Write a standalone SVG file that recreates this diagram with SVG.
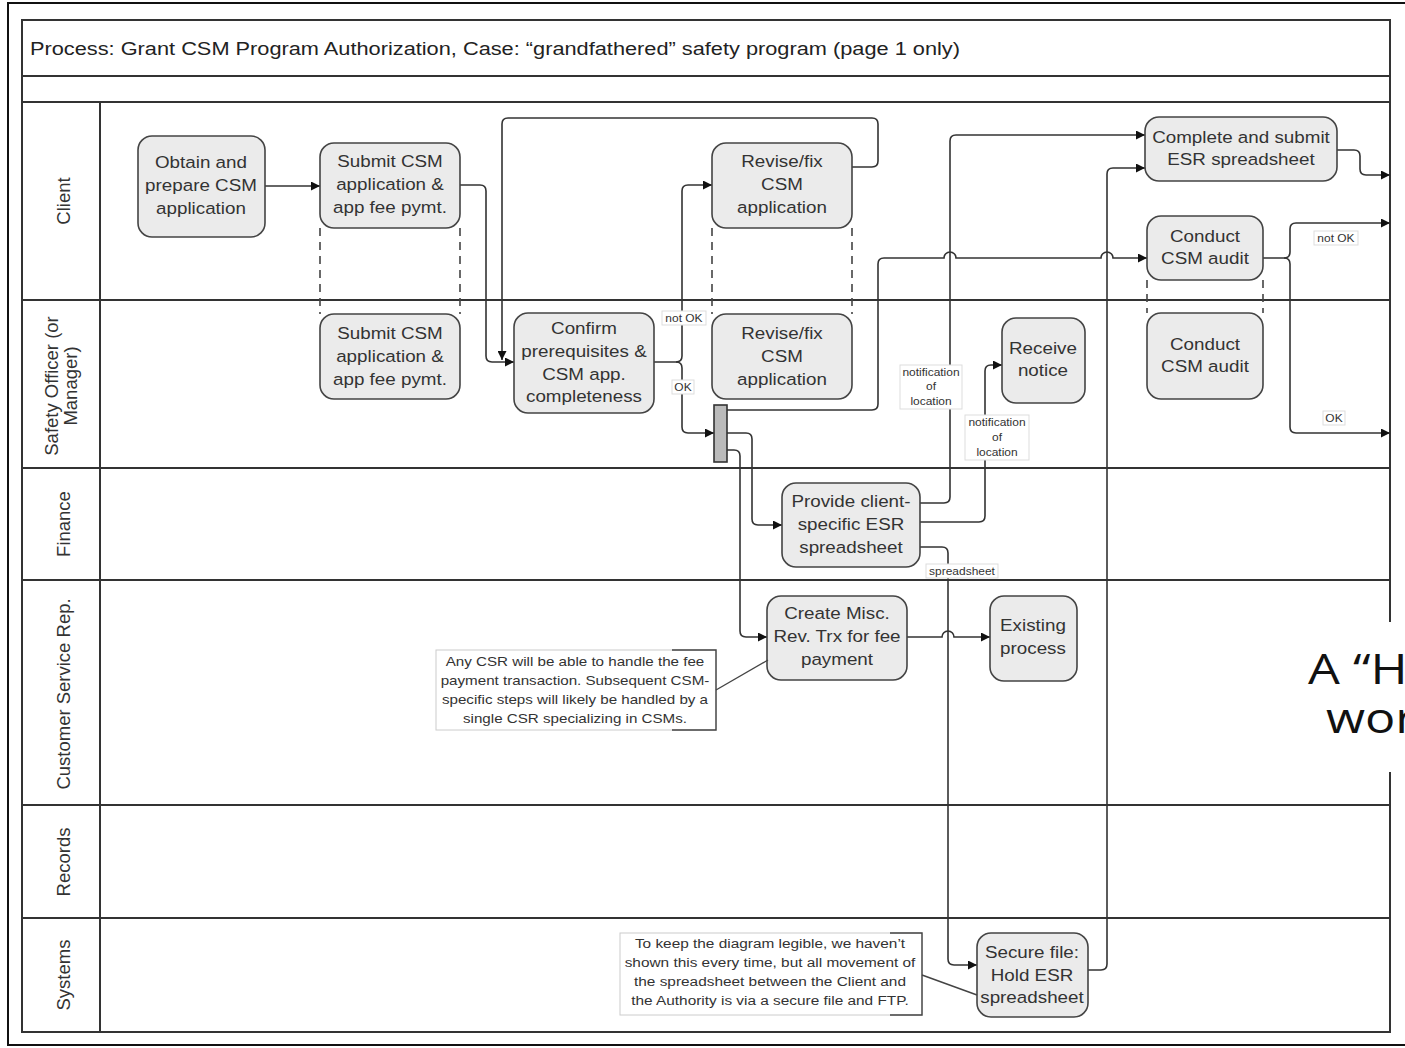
<svg xmlns="http://www.w3.org/2000/svg" width="1405" height="1048" viewBox="0 0 1405 1048">
<style>
.lane{stroke:#333;stroke-width:2;fill:none}
.node rect{fill:#ebebeb;stroke:#444;stroke-width:1.6}
.node text,.lt{font-family:"Liberation Sans",Arial,sans-serif;font-size:16.5px;fill:#333;text-anchor:middle}
.lt{font-size:18.5px}
.dash{stroke:#444;stroke-width:1.6;stroke-dasharray:8,6;fill:none}
.conn path{stroke:#333;stroke-width:1.6;fill:none}
.lbl rect{fill:#fff;stroke:#ddd;stroke-width:1}
.lbl text{font-family:"Liberation Sans",Arial,sans-serif;font-size:10.5px;fill:#333;text-anchor:middle}
.note text{font-family:"Liberation Sans",Arial,sans-serif;font-size:13.3px;fill:#333;text-anchor:middle}
.note rect{fill:#fff;stroke:#ccc;stroke-width:1}
.note path{stroke:#444;stroke-width:1.4;fill:none}
</style>
<defs>
<marker id="arr" viewBox="0 0 10 10" refX="10" refY="5" markerWidth="9" markerHeight="9" markerUnits="userSpaceOnUse" orient="auto">
<path d="M0,0 L10,5 L0,10 z" fill="#111"/>
</marker>
</defs>
<rect x="0" y="0" width="1405" height="1048" fill="#fff"/>
<rect x="8" y="3" width="1420" height="1042" fill="none" stroke="#111" stroke-width="2"/>
<g id="frame">
<rect x="22" y="20" width="1368" height="1012" class="lane"/>
<line x1="22" y1="76" x2="1390" y2="76" class="lane"/>
<line x1="22" y1="102" x2="1390" y2="102" class="lane"/>
<line x1="22" y1="300" x2="1390" y2="300" class="lane"/>
<line x1="22" y1="468" x2="1390" y2="468" class="lane"/>
<line x1="22" y1="580" x2="1390" y2="580" class="lane"/>
<line x1="22" y1="805" x2="1390" y2="805" class="lane"/>
<line x1="22" y1="918" x2="1390" y2="918" class="lane"/>
<line x1="100" y1="102" x2="100" y2="1032" class="lane"/>
<text x="30" y="55" textLength="930" lengthAdjust="spacingAndGlyphs" style="font-family:'Liberation Sans',Arial,sans-serif;font-size:17.5px;fill:#222">Process: Grant CSM Program Authorization, Case: “grandfathered” safety program (page 1 only)</text>
<text class="lt" transform="translate(70,201) rotate(-90)">Client</text>
<text class="lt" transform="translate(58,386) rotate(-90)">Safety Officer (or</text>
<text class="lt" transform="translate(77,386) rotate(-90)">Manager)</text>
<text class="lt" transform="translate(70,524) rotate(-90)">Finance</text>
<text class="lt" transform="translate(70,694) rotate(-90)">Customer Service Rep.</text>
<text class="lt" transform="translate(70,862) rotate(-90)">Records</text>
<text class="lt" transform="translate(70,975) rotate(-90)">Systems</text>
</g>
<g id="dashes">
<line x1="320" y1="228" x2="320" y2="314" class="dash"/>
<line x1="460" y1="228" x2="460" y2="314" class="dash"/>
<line x1="712" y1="228" x2="712" y2="314" class="dash"/>
<line x1="852" y1="228" x2="852" y2="314" class="dash"/>
<line x1="1147" y1="280" x2="1147" y2="313" class="dash"/>
<line x1="1263" y1="280" x2="1263" y2="313" class="dash"/>
</g>
<g id="connectors" class="conn">
<path d="M265,186 H320" marker-end="url(#arr)"/>
<path d="M460,185 H480 Q486,185 486,191 V356 Q486,362 492,362 H514" marker-end="url(#arr)"/>
<path d="M852,167 H872 Q878,167 878,161 V124 Q878,118 872,118 H508 Q502,118 502,124 V360" marker-end="url(#arr)"/>
<path d="M654,362 H676 Q682,362 682,356 V191 Q682,185 688,185 H712" marker-end="url(#arr)"/>
<path d="M676,362 Q682,362 682,368 V427 Q682,433 688,433 H714" marker-end="url(#arr)"/>
<path d="M727,433 H746 Q752,433 752,439 V519 Q752,525 758,525 H782" marker-end="url(#arr)"/>
<path d="M727,450 H734 Q740,450 740,456 V631 Q740,637 746,637 H767" marker-end="url(#arr)"/>
<path d="M727,410 H872 Q878,410 878,404 V264 Q878,258 884,258 H944 A6,6 0 0 1 956,258 H1101 A6,6 0 0 1 1113,258 H1147" marker-end="url(#arr)"/>
<path d="M920,503 H944 Q950,503 950,497 V141 Q950,135 956,135 H1145" marker-end="url(#arr)"/>
<path d="M920,522 H979 Q985,522 985,516 V371 Q985,365 991,365 H1002" marker-end="url(#arr)"/>
<path d="M920,547 H942 Q948,547 948,553 V959 Q948,965 954,965 H977" marker-end="url(#arr)"/>
<path d="M907,637 H942 A6,6 0 0 1 954,637 H990" marker-end="url(#arr)"/>
<path d="M1088,970 H1101 Q1107,970 1107,964 V174 Q1107,168 1113,168 H1145" marker-end="url(#arr)"/>
<path d="M1337,150 H1354 Q1360,150 1360,156 V169 Q1360,175 1366,175 H1390" marker-end="url(#arr)"/>
<path d="M1263,258 H1284 Q1290,258 1290,252 V229 Q1290,223 1296,223 H1390" marker-end="url(#arr)"/>
<path d="M1284,258 Q1290,258 1290,264 V427 Q1290,433 1296,433 H1390" marker-end="url(#arr)"/>
</g>
<g id="labels" class="lbl">
<g id="lbl-notok1"><rect x="662" y="311" width="44" height="14"/><text x="684" y="322" transform="matrix(1.14,0,0,1,-95.76,0)">not OK</text></g>
<g id="lbl-ok1"><rect x="672" y="380" width="22" height="14"/><text x="683" y="391" transform="matrix(1.14,0,0,1,-95.62,0)">OK</text></g>
<g id="lbl-notif1"><rect x="900" y="365" width="62" height="44"/><g transform="matrix(1.14,0,0,1,-130.34,0)"><text x="931" y="376">notification</text><text x="931" y="390">of</text><text x="931" y="405">location</text></g></g>
<g id="lbl-notif2"><rect x="965" y="415" width="64" height="45"/><g transform="matrix(1.14,0,0,1,-139.58,0)"><text x="997" y="426">notification</text><text x="997" y="441">of</text><text x="997" y="456">location</text></g></g>
<g id="lbl-spread"><rect x="926" y="564" width="72" height="14"/><text x="962" y="575" transform="matrix(1.14,0,0,1,-134.68,0)">spreadsheet</text></g>
<g id="lbl-notok2"><rect x="1314" y="231" width="44" height="14"/><text x="1336" y="242" transform="matrix(1.14,0,0,1,-187.04,0)">not OK</text></g>
<g id="lbl-ok2"><rect x="1323" y="411" width="22" height="14"/><text x="1334" y="422" transform="matrix(1.14,0,0,1,-186.76,0)">OK</text></g>
</g>
<g id="n-obtain" class="node"><rect x="138" y="136" width="127" height="101" rx="14"/><g transform="matrix(1.14,0,0,1,-28.14,0)"><text x="201" y="168">Obtain and</text><text x="201" y="191">prepare CSM</text><text x="201" y="214">application</text></g></g>
<g id="n-submit-client" class="node"><rect x="320" y="143" width="140" height="85" rx="14"/><g transform="matrix(1.14,0,0,1,-54.6,0)"><text x="390" y="167">Submit CSM</text><text x="390" y="190">application &amp;</text><text x="390" y="213">app fee pymt.</text></g></g>
<g id="n-submit-safety" class="node"><rect x="320" y="314" width="140" height="85" rx="14"/><g transform="matrix(1.14,0,0,1,-54.6,0)"><text x="390" y="339">Submit CSM</text><text x="390" y="362">application &amp;</text><text x="390" y="385">app fee pymt.</text></g></g>
<g id="n-revise-client" class="node"><rect x="712" y="143" width="140" height="85" rx="14"/><g transform="matrix(1.14,0,0,1,-109.48,0)"><text x="782" y="167">Revise/fix</text><text x="782" y="190">CSM</text><text x="782" y="213">application</text></g></g>
<g id="n-revise-safety" class="node"><rect x="712" y="314" width="140" height="85" rx="14"/><g transform="matrix(1.14,0,0,1,-109.48,0)"><text x="782" y="339">Revise/fix</text><text x="782" y="362">CSM</text><text x="782" y="385">application</text></g></g>
<g id="n-confirm" class="node"><rect x="514" y="313" width="140" height="100" rx="14"/><g transform="matrix(1.14,0,0,1,-81.76,0)"><text x="584" y="334">Confirm</text><text x="584" y="357">prerequisites &amp;</text><text x="584" y="380">CSM app.</text><text x="584" y="402">completeness</text></g></g>
<g id="n-receive" class="node"><rect x="1002" y="318" width="83" height="85" rx="14"/><g transform="matrix(1.14,0,0,1,-146.02,0)"><text x="1043" y="354">Receive</text><text x="1043" y="376">notice</text></g></g>
<g id="n-complete" class="node"><rect x="1145" y="117" width="192" height="64" rx="14"/><g transform="matrix(1.14,0,0,1,-173.74,0)"><text x="1241" y="143">Complete and submit</text><text x="1241" y="165">ESR spreadsheet</text></g></g>
<g id="n-audit-client" class="node"><rect x="1147" y="216" width="116" height="64" rx="14"/><g transform="matrix(1.14,0,0,1,-168.7,0)"><text x="1205" y="242">Conduct</text><text x="1205" y="264">CSM audit</text></g></g>
<g id="n-audit-safety" class="node"><rect x="1147" y="313" width="116" height="86" rx="14"/><g transform="matrix(1.14,0,0,1,-168.7,0)"><text x="1205" y="350">Conduct</text><text x="1205" y="372">CSM audit</text></g></g>
<g id="n-provide" class="node"><rect x="782" y="483" width="138" height="84" rx="14"/><g transform="matrix(1.14,0,0,1,-119.14,0)"><text x="851" y="507">Provide client-</text><text x="851" y="530">specific ESR</text><text x="851" y="553">spreadsheet</text></g></g>
<g id="n-create" class="node"><rect x="767" y="596" width="140" height="84" rx="14"/><g transform="matrix(1.14,0,0,1,-117.18,0)"><text x="837" y="619">Create Misc.</text><text x="837" y="642">Rev. Trx for fee</text><text x="837" y="665">payment</text></g></g>
<g id="n-existing" class="node"><rect x="990" y="596" width="87" height="85" rx="14"/><g transform="matrix(1.14,0,0,1,-144.62,0)"><text x="1033" y="631">Existing</text><text x="1033" y="654">process</text></g></g>
<g id="n-secure" class="node"><rect x="977" y="933" width="111" height="84" rx="14"/><g transform="matrix(1.14,0,0,1,-144.48,0)"><text x="1032" y="958">Secure file:</text><text x="1032" y="981">Hold ESR</text><text x="1032" y="1003">spreadsheet</text></g></g>
<g id="n-sync"><rect x="714" y="405" width="13" height="57" fill="#bbb" stroke="#333" stroke-width="1.6"/></g>
<g id="note-csr" class="note">
<rect x="436" y="650" width="280" height="80"/>
<path d="M672,650 H716 V730 H672"/>
<path d="M716,690 L768,660"/>
<g transform="matrix(1.14,0,0,1,-80.5,0)">
<text x="575" y="666">Any CSR will be able to handle the fee</text>
<text x="575" y="685">payment transaction. Subsequent CSM-</text>
<text x="575" y="704">specific steps will likely be handled by a</text>
<text x="575" y="723">single CSR specializing in CSMs.</text>
</g>
</g>
<g id="note-secure" class="note">
<rect x="620" y="933" width="302" height="82"/>
<path d="M890,933 H922 V1015 H890"/>
<path d="M922,975 L977,995"/>
<g transform="matrix(1.14,0,0,1,-107.8,0)" style="font-size:13.5px">
<text x="770" y="948" style="font-size:13.5px">To keep the diagram legible, we haven’t</text>
<text x="770" y="967" style="font-size:13.5px">shown this every time, but all movement of</text>
<text x="770" y="986" style="font-size:13.5px">the spreadsheet between the Client and</text>
<text x="770" y="1005" style="font-size:13.5px">the Authority is via a secure file and FTP.</text>
</g>
</g>
<g id="overlay">
<rect x="1296" y="622" width="120" height="150" fill="#fff"/>
<g transform="matrix(1.2,0,0,1,-261.6,0)" style="font-family:'Open Sans','Noto Sans',sans-serif;font-size:42px;fill:#111">
<text x="1308" y="684">A “H</text>
<text x="1323" y="733">wor</text>
</g>
</g>
</svg>
